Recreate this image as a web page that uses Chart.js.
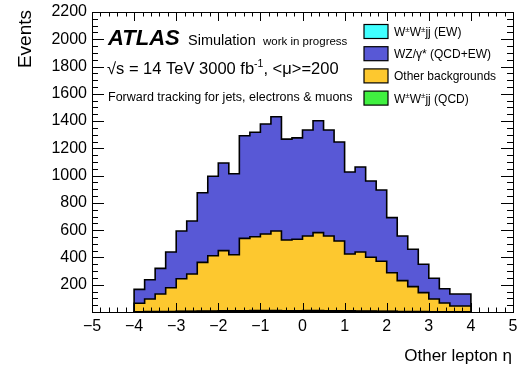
<!DOCTYPE html>
<html>
<head>
<meta charset="utf-8">
<script src="https://cdn.jsdelivr.net/npm/chart.js@4/dist/chart.umd.min.js"></script>
<style>
  html, body { margin: 0; padding: 0; background: #fff; }
  #wrap { width: 518px; height: 365px; position: relative; }
</style>
</head>
<body>
<div id="wrap"><canvas id="etaChart"></canvas></div>
<script>
// bin edges of the eta histogram (width 0.25)
const etaEdges = [-4, -3.75, -3.5, -3.25, -3, -2.75, -2.5, -2.25, -2, -1.75, -1.5, -1.25, -1, -0.75, -0.5, -0.25,
  0, 0.25, 0.5, 0.75, 1, 1.25, 1.5, 1.75, 2, 2.25, 2.5, 2.75, 3, 3.25, 3.5, 3.75, 4];

// events per bin for each process
const wwQcd = [1, 1, 2, 2, 2, 3, 3, 4, 4, 5, 4, 5, 6, 5, 6, 5, 5, 6, 6, 5, 5, 4, 4, 4, 3, 3, 2, 2, 2, 1, 1, 1];
const wwEw = [1, 1, 1, 2, 2, 2, 3, 3, 3, 4, 4, 4, 4, 5, 5, 4, 4, 5, 5, 4, 4, 4, 3, 3, 3, 2, 2, 2, 1, 1, 1, 1];
const otherBkg = [37, 62, 92, 128, 174, 239, 273, 357, 406, 441, 412, 531, 542, 562, 583, 519,
  524, 546, 571, 548, 512, 417, 433, 394, 366, 283, 226, 182, 139, 93, 64, 42];
const wzBkg = [93, 102, 142, 188, 262, 350, 388, 511, 582, 643, 594, 753, 766, 807, 838, 740,
  744, 778, 821, 778, 726, 602, 623, 560, 523, 404, 327, 274, 208, 152, 105, 88];

const xTicks = [-5, -4, -3, -2, -1, 0, 1, 2, 3, 4, 5];
const yTicks = [200, 400, 600, 800, 1000, 1200, 1400, 1600, 1800, 2000, 2200];

// legend entries; parts in sup are drawn as superscripts
const legendItems = [
  { parts: ['W', { sup: '±' }, 'W', { sup: '±' }, 'jj (EW)'], color: 'rgb(64,255,255)' },
  { parts: ['WZ/γ* (QCD+EW)'], color: 'rgb(88,88,214)' },
  { parts: ['Other backgrounds'], color: 'rgb(253,200,47)' },
  { parts: ['W', { sup: '±' }, 'W', { sup: '±' }, 'jj (QCD)'], color: 'rgb(64,240,64)' }
];

const FONT = '"Liberation Sans", Arial, Helvetica, sans-serif';

// stack the processes (bottom -> top) and turn each into a step outline
function stackSteps(layers) {
  const total = new Array(etaEdges.length - 1).fill(0);
  return layers.map(vals => {
    vals.forEach((v, i) => total[i] += v);
    const pts = [{ x: etaEdges[0], y: 0 }];
    total.forEach((v, i) => pts.push({ x: etaEdges[i], y: v }));
    pts.push({ x: etaEdges[etaEdges.length - 1], y: total[total.length - 1] });
    pts.push({ x: etaEdges[etaEdges.length - 1], y: 0 });
    return pts;
  });
}

const stacked = stackSteps([wwQcd, wwEw, otherBkg, wzBkg]);
const fills = ['rgb(64,240,64)', 'rgb(64,255,255)', 'rgb(253,200,47)', 'rgb(88,88,214)'];
const seriesNames = ['W±W±jj (QCD)', 'W±W±jj (EW)', 'Other backgrounds', 'WZ/γ* (QCD+EW)'];

function fmtMinus(v) {
  return v < 0 ? '\u2212' + Math.abs(v) : String(v);
}

// frame + inward ticks like ROOT
const framePlugin = {
  id: 'frame',
  afterDatasetsDraw(chart) {
    const { ctx, chartArea: a, scales: { x, y } } = chart;
    ctx.save();
    ctx.strokeStyle = '#000';
    ctx.lineWidth = 1;
    ctx.beginPath();
    for (let k = -50; k <= 50; k += 2) {
      const v = k / 10;
      const px = Math.round(x.getPixelForValue(v)) + 0.5;
      const len = (k % 10 === 0) ? 9 : 4.5;
      ctx.moveTo(px, a.bottom); ctx.lineTo(px, a.bottom - len);
      ctx.moveTo(px, a.top); ctx.lineTo(px, a.top + len);
    }
    for (let v = 0; v <= 2200; v += 50) {
      const py = Math.round(y.getPixelForValue(v)) + 0.5;
      const len = (v % 200 === 0) ? 12 : 6;
      ctx.moveTo(a.left, py); ctx.lineTo(a.left + len, py);
      ctx.moveTo(a.right, py); ctx.lineTo(a.right - len, py);
    }
    ctx.stroke();
    ctx.strokeRect(Math.round(a.left) + 0.5, Math.round(a.top) + 0.5,
      Math.round(a.right - a.left), Math.round(a.bottom - a.top));
    ctx.restore();
  }
};

// ATLAS labels, legend and axis titles
const textPlugin = {
  id: 'texts',
  afterDraw(chart) {
    const ctx = chart.ctx;
    ctx.save();
    ctx.fillStyle = '#000';
    ctx.textBaseline = 'alphabetic';
    ctx.textAlign = 'left';

    ctx.font = 'italic bold 22px ' + FONT;
    ctx.fillText('ATLAS', 108, 45);
    ctx.font = '14.5px ' + FONT;
    ctx.fillText('Simulation', 188, 45);
    ctx.font = '11.5px ' + FONT;
    ctx.fillText('work in progress', 263, 45);

    ctx.font = '16.5px ' + FONT;
    let xx = 107;
    let s1 = '\u221As = 14 TeV 3000 fb';
    ctx.fillText(s1, xx, 74);
    xx += ctx.measureText(s1).width;
    ctx.font = '10.5px ' + FONT;
    ctx.fillText('-1', xx, 67);
    xx += ctx.measureText('-1').width;
    ctx.font = '16.5px ' + FONT;
    ctx.fillText(', <\u03BC>=200', xx, 74);

    ctx.font = '12.5px ' + FONT;
    ctx.fillText('Forward tracking for jets, electrons & muons', 108, 101);

    legendItems.forEach((it, i) => {
      const cy = 31.5 + i * 22.2;
      ctx.fillStyle = it.color;
      ctx.fillRect(364, cy - 7, 24, 14);
      ctx.strokeStyle = '#000';
      ctx.lineWidth = 1.2;
      ctx.strokeRect(364, cy - 7, 24, 14);
      ctx.fillStyle = '#000';
      let lx = 394;
      const base = cy + 4.5;
      it.parts.forEach(p => {
        if (typeof p === 'string') {
          ctx.font = '12px ' + FONT;
          ctx.fillText(p, lx, base);
          lx += ctx.measureText(p).width;
        } else {
          ctx.font = '8px ' + FONT;
          ctx.fillText(p.sup, lx, base - 4.5);
          lx += ctx.measureText(p.sup).width;
        }
      });
    });

    ctx.textAlign = 'right';
    ctx.font = '17px ' + FONT;
    ctx.fillText('Other lepton \u03B7', 512, 361);

    ctx.translate(31, 10);
    ctx.rotate(-Math.PI / 2);
    ctx.font = '19px ' + FONT;
    ctx.fillText('Events', 0, 0);
    ctx.restore();
  }
};

new Chart(document.getElementById('etaChart'), {
  type: 'line',
  data: {
    datasets: stacked.map((pts, i) => ({
      label: seriesNames[i],
      data: pts,
      stepped: 'after',
      fill: 'origin',
      backgroundColor: fills[i],
      borderColor: '#000',
      borderWidth: 1.6,
      pointRadius: 0,
      tension: 0
    }))
  },
  options: {
    responsive: true,
    maintainAspectRatio: false,
    animation: false,
    layout: { padding: { top: 12, right: 5, left: 0, bottom: 0 } },
    plugins: { legend: { display: false }, tooltip: { enabled: false } },
    scales: {
      x: {
        type: 'linear', min: -5, max: 5,
        afterBuildTicks: s => { s.ticks = xTicks.map(v => ({ value: v })); },
        afterFit: s => { s.height = 53; },
        grid: { display: false, drawTicks: true, tickLength: 5 },
        border: { display: false },
        ticks: { padding: 0, color: '#000', font: { family: FONT, size: 16 }, callback: v => fmtMinus(v), maxRotation: 0 }
      },
      y: {
        min: 0, max: 2200,
        afterBuildTicks: s => { s.ticks = yTicks.map(v => ({ value: v })); },
        afterFit: s => { s.width = 92; },
        grid: { display: false, drawTicks: true, tickLength: 5 },
        border: { display: false },
        ticks: { padding: 0, color: '#000', font: { family: FONT, size: 16 }, callback: v => String(v) }
      }
    }
  },
  plugins: [framePlugin, textPlugin]
});
</script>
</body>
</html>
